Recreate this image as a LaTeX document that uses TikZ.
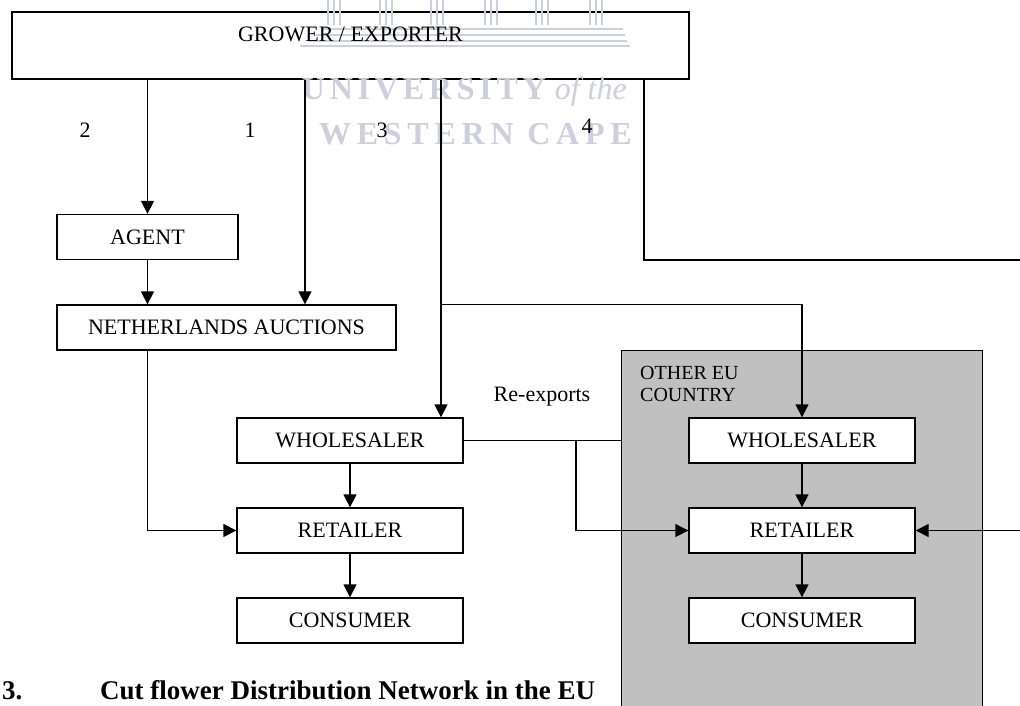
\documentclass[tikz,border=0pt]{standalone}
\usepackage{fontspec}
\setmainfont{Liberation Serif}
\usepackage{tikz}
\usetikzlibrary{arrows.meta}

\definecolor{euGray}{HTML}{C0C0C0}
\definecolor{wmark}{HTML}{CDD0DC}

\tikzset{
  box/.style={draw=black, fill=white, line width=1.3pt, inner sep=0pt,
    minimum width=226pt, minimum height=45pt,
    font=\fontsize{22}{24}\selectfont},
  txt/.style={inner sep=0pt, font=\fontsize{22}{24}\selectfont},
  flow/.style={line width=1.3pt, -{Triangle[length=13pt, width=13pt]}},
  link/.style={line width=1.3pt},
}

\begin{document}
\begin{tikzpicture}[x=1pt, y=-1pt]
  \clip (0,0) rectangle (1020,706);
  \fill[white] (0,0) rectangle (1020,706);

  % other EU country
  \node[draw=black, fill=euGray, line width=1.3pt, inner sep=0pt,
  minimum width=361pt, minimum height=390pt,
  anchor=north west] (other) at (621,350) {};
  \node[anchor=north west, align=left, inner sep=0pt,
  font=\fontsize{20}{22}\selectfont] (otherlbl) at (640,366) {OTHER EU\\COUNTRY};

  \node[box, minimum width=677pt, minimum height=67pt] (grower) at (350.5,45.5) {};

  % watermark
  \foreach \gx in {334,386,437,491,542,596}
    \foreach \dx in {-6,0,6}
      \draw[wmark, line width=2pt] (\gx+\dx,0) -- (\gx+\dx,25);
  \foreach \by/\bx/\ex in {29/323/623,35/316/625,41/308/627,46/300/630}
    \draw[wmark, line width=2.2pt] (\bx,\by) -- (\ex,\by);
  \node[anchor=base east, inner sep=0pt, text=wmark,
  font=\fontsize{32}{34}\bfseries\addfontfeatures{LetterSpace=15}] (wm1) at (627,100)
  {UNIVERSITY\hspace{4pt}\textmd{\itshape\addfontfeatures{LetterSpace=0}of the}};
  \node[anchor=base east, inner sep=0pt, text=wmark,
  font=\fontsize{32}{34}\bfseries\addfontfeatures{LetterSpace=18}] (wm2) at (632,145)
  {WESTERN CAPE};

  \node[txt] (growerlbl) at (350.5,34) {GROWER / EXPORTER};

  \node[box, minimum width=181pt] (agent) at (147.5,237) {AGENT};
  \node[box, minimum width=339pt] (na) at (226.5,327.5) {NETHERLANDS AUCTIONS};

  \node[box] (lwhole) at (350,440.5) {WHOLESALER};
  \node[box] (lretail) at (350,530.5) {RETAILER};
  \node[box] (lcons) at (350,620.5) {CONSUMER};

  \node[box] (rwhole) at (802,440.5) {WHOLESALER};
  \node[box] (rretail) at (802,530.5) {RETAILER};
  \node[box] (rcons) at (802,620.5) {CONSUMER};

  \node[txt] (n2) at (85,130) {2};
  \node[txt] (n1) at (250,130) {1};
  \node[txt] (n3) at (382,130) {3};
  \node[txt] (n4) at (587,126) {4};
  \node[txt] (reexp) at (542,397) {Re-exports};

  \coordinate (x1) at (305,0);
  \coordinate (x3) at (441,0);
  \coordinate (x4) at (644,0);
  \coordinate (xre) at (576,0);
  \coordinate (eastedge) at (1020,0);
  \coordinate (e4) at (1020,260);

  \draw[flow] (grower.south -| agent) -- (agent);
  \draw[flow] (agent) -- (na.north -| agent);
  \draw[flow] (grower.south -| x1) -- (na.north -| x1);
  \draw[flow] (grower.south -| x3) -- (lwhole.north -| x3);
  \draw[flow] (na.north -| x3) -| (rwhole);
  \draw[link] (grower.south -| x4) |- (e4);
  \draw[flow] (rretail.east -| eastedge) -- (rretail);
  \draw[flow] (na.south -| agent) |- (lretail);
  \draw[flow] (lwhole) -- (lretail);
  \draw[flow] (lretail) -- (lcons);
  \draw[flow] (rwhole) -- (rretail);
  \draw[flow] (rretail) -- (rcons);
  \draw[link] (lwhole.east) -- (lwhole.east -| other.west);
  \draw[flow] (lwhole.east -| xre) |- (rretail);

  % caption
  \node[anchor=base west, inner sep=0pt,
  font=\fontsize{27}{30}\bfseries] (capnum) at (2,699) {3.};
  \node[anchor=base west, inner sep=0pt,
  font=\fontsize{27}{30}\bfseries] (caption) at (100,699)
  {Cut flower Distribution Network in the EU};
\end{tikzpicture}
\end{document}
